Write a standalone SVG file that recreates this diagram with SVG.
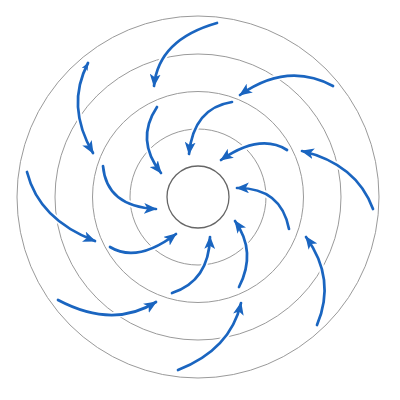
<svg xmlns="http://www.w3.org/2000/svg" width="400" height="400" viewBox="0 0 400 400">
<style>
.ring{fill:none;stroke:#9a9a9a;stroke-width:1}
.core{fill:none;stroke:#666;stroke-width:1.3}
.halo path{fill:none;stroke:#fff;stroke-width:6;stroke-linecap:round}
.arr path{fill:none;stroke:#1a65c0;stroke-width:2.7;stroke-linecap:round;marker-end:url(#ah)}
</style>
<defs>
<marker id="ah" viewBox="0 0 12 10" refX="11" refY="5" markerWidth="13" markerHeight="11" markerUnits="userSpaceOnUse" orient="auto">
<path d="M0,0 L12,5 L0,10 L3,5 Z" fill="#1a65c0"/>
</marker>
<marker id="as" viewBox="0 0 12 10" refX="11" refY="5" markerWidth="8" markerHeight="7" markerUnits="userSpaceOnUse" orient="auto-start-reverse">
<path d="M0,0 L12,5 L0,10 L3,5 Z" fill="#1a65c0"/>
</marker>
</defs>
<rect width="400" height="400" fill="#fff"/>
<g id="rings">
<circle class="ring" cx="198" cy="197" r="181"/>
<circle class="ring" cx="198" cy="197" r="143"/>
<circle class="ring" cx="198" cy="197" r="105.5"/>
<circle class="ring" cx="198" cy="197" r="68"/>
<circle id="core" class="core" cx="198" cy="197" r="31"/>
</g>
<g id="connectors">
<g class="halo">
<path d="M217,23 Q158.5,39.5 154,86"/>
<path d="M333,86 Q287.5,61.5 240,95"/>
<path d="M373,209 Q356.5,164 302,151"/>
<path d="M317,325 Q336.5,279 306,237"/>
<path d="M178,370 Q230.5,349.5 241,303"/>
<path d="M58,300 Q113,329 156,302"/>
<path d="M27,172 Q39,219.5 95,241"/>
<path d="M88,63 Q65.5,106 93,153"/>
<path d="M232,102 Q193.5,108 189,154"/>
<path d="M287,150 Q260,133 221,160"/>
<path d="M289,229 Q281,187.5 237,188"/>
<path d="M239,287 Q257,252 235,221"/>
<path d="M172,293 Q209,281 210,237"/>
<path d="M110,247 Q137,263.5 176,234"/>
<path d="M103,166 Q106.5,206.5 156,209"/>
<path d="M157,107 Q135,140 161,173"/>
</g>
<g class="arr">
<path d="M217,23 Q158.5,39.5 154,86"/>
<path d="M333,86 Q287.5,61.5 240,95"/>
<path d="M373,209 Q356.5,164 302,151"/>
<path d="M317,325 Q336.5,279 306,237"/>
<path d="M178,370 Q230.5,349.5 241,303"/>
<path d="M58,300 Q113,329 156,302"/>
<path d="M27,172 Q39,219.5 95,241"/>
<path d="M88,63 Q65.5,106 93,153" style="marker-start:url(#as)"/>
<path d="M232,102 Q193.5,108 189,154"/>
<path d="M287,150 Q260,133 221,160"/>
<path d="M289,229 Q281,187.5 237,188"/>
<path d="M239,287 Q257,252 235,221"/>
<path d="M172,293 Q209,281 210,237"/>
<path d="M110,247 Q137,263.5 176,234"/>
<path d="M103,166 Q106.5,206.5 156,209"/>
<path d="M157,107 Q135,140 161,173"/>
</g>
</g>
</svg>
